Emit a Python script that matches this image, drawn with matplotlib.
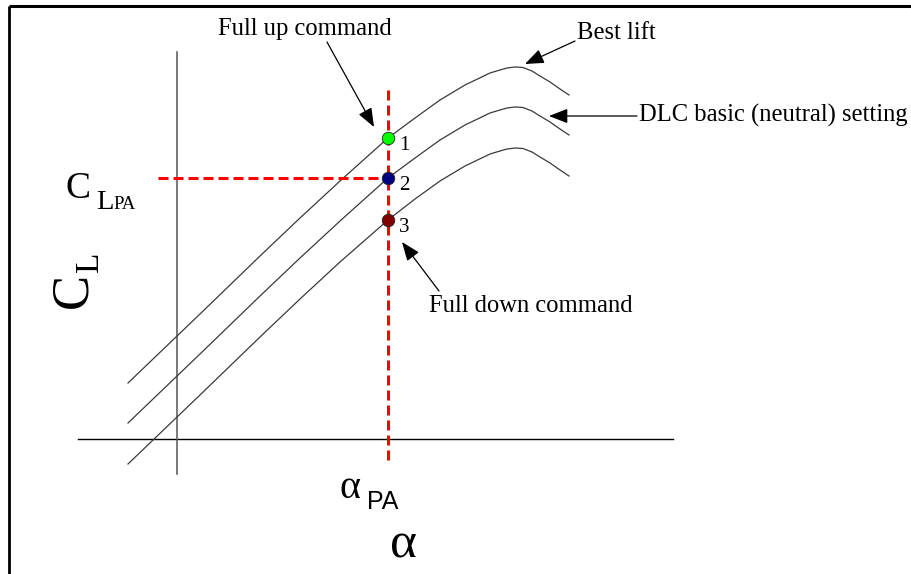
import matplotlib
matplotlib.use("Agg")
import matplotlib.pyplot as plt
from matplotlib.patches import ArrowStyle

plt.rcParams['lines.scale_dashes'] = False

# ---- data (drawing units: x to the right, y downward as on the page) ----
alpha = [128, 200, 260, 300, 340, 388, 415, 440, 465, 490, 500, 507, 515, 523, 532, 540, 550, 560, 569]
cl_best = [383, 314, 256, 218, 181, 138, 118, 100, 85, 73, 70, 68, 67, 67.5, 71, 76, 82, 89, 95]
cl_neutral = [423, 354, 296, 258, 221, 178, 158, 140, 125, 113, 110, 108, 107, 107.5, 111, 116, 122, 129, 135]
cl_down = [464, 395, 337, 299, 262, 220, 199, 181, 166, 154, 151, 149, 148, 148.5, 152, 157, 163, 170, 176]

alpha_pa = 388
cl_points = [138, 178, 220]
point_labels = ["1", "2", "3"]
point_colors = ["#00ff00", "#000080", "#800000"]

x_axis_y = 439
x_axis_range = [78, 673]
y_axis_x = 177
y_axis_range = [52, 474]

fig = plt.figure(figsize=(9.12, 5.74), dpi=100)
ax = fig.add_axes([0, 0, 1, 1])
ax.set_xlim(0, 912)
ax.set_ylim(574, 0)
ax.axis('off')

# border (left and top)
ax.plot([8.7, 8.7], [5.5, 574], color='black', lw=2.0, solid_capstyle='butt')
ax.plot([8.7, 912], [5.5, 5.5], color='black', lw=2.2, solid_capstyle='butt')

# axes lines
ax.plot(x_axis_range, [x_axis_y, x_axis_y], color='black', lw=1.0)
ax.plot([y_axis_x, y_axis_x], y_axis_range, color='#555555', lw=1.1)

# curves
for cl in (cl_best, cl_neutral, cl_down):
    ax.plot(alpha, cl, color='#3a3a3a', lw=0.9, solid_joinstyle='round')

# red dashed reference lines
dash = (0, (7.2, 3.6))
ax.plot([alpha_pa, alpha_pa], [90, 463], color='#ff0000', lw=2.2, linestyle=dash)
ax.plot([158, alpha_pa], [cl_points[1], cl_points[1]], color='#ff0000', lw=2.2, linestyle=dash)

# points
for cy, c, lab in zip(cl_points, point_colors, point_labels):
    ax.plot([alpha_pa], [cy], 'o', ms=9, mfc=c, mec='#222222', mew=0.6, zorder=5)
    ax.text(alpha_pa + 11, cy + 12, lab, family='Liberation Serif', fontsize=15,
            ha='left', va='baseline')

serif = 'Liberation Serif'
# annotations
style = ArrowStyle('-|>', head_length=1.15, head_width=0.45)
def arrow(x0, y0, x1, y1):
    ax.annotate('', xy=(x1, y1), xytext=(x0, y0),
                arrowprops=dict(arrowstyle=style, mutation_scale=10, color='black',
                                lw=0.9, shrinkA=0, shrinkB=0))

fs = 17.7
ax.text(218, 35, "Full up command", family=serif, fontsize=fs, ha='left', va='baseline')
arrow(327, 42, 374, 127)
ax.text(577, 39, "Best lift", family=serif, fontsize=fs, ha='left', va='baseline')
arrow(575, 41, 525, 64)
ax.text(639, 122, "DLC basic (neutral) setting", family=serif, fontsize=fs, ha='left', va='baseline')
arrow(637, 116, 549, 116)
ax.text(429, 312, "Full down command", family=serif, fontsize=fs, ha='left', va='baseline')
arrow(439, 291, 402, 242)

# C_LPA label
ax.text(66, 198, "C", family=serif, fontsize=27, ha='left', va='baseline')
ax.text(96, 209, "L", family=serif, fontsize=20.5, ha='left', va='baseline')
ax.text(113, 209, "PA", family=serif, fontsize=13.5, ha='left', va='baseline')

# rotated C_L label
ax.text(86, 308, "C", family=serif, fontsize=38, rotation=90, rotation_mode='anchor',
        ha='left', va='baseline')
ax.text(98, 272, "L", family=serif, fontsize=24, rotation=90, rotation_mode='anchor',
        ha='left', va='baseline')

# alpha_PA label
ax.text(340, 498, "α", family=serif, fontsize=29, ha='left', va='baseline')
ax.text(367, 509, "PA", family='Liberation Sans', fontsize=18, ha='left', va='baseline')

# alpha axis label
ax.text(390, 558, "α", family=serif, fontsize=37, ha='left', va='baseline')

fig.savefig("out.png", dpi=100)
